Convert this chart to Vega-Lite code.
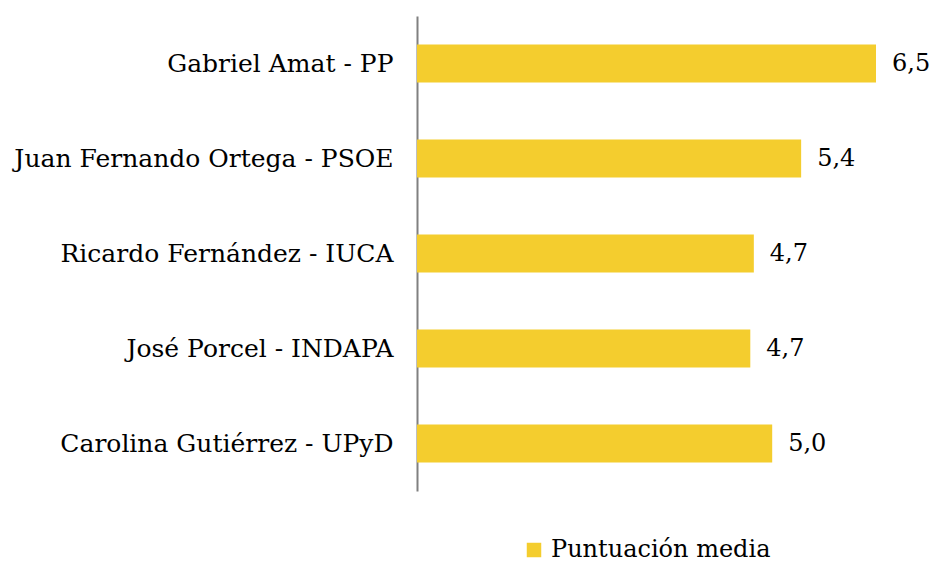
{
  "$schema": "https://vega.github.io/schema/vega-lite/v6.json",
  "autosize": "none",
  "width": 459,
  "height": 475,
  "padding": {"left": 417, "top": 16, "right": 59, "bottom": 71},
  "background": "white",
  "config": {
    "view": {"stroke": null},
    "font": "DejaVu Serif",
    "text": {"font": "DejaVu Serif"},
    "legend": {"labelFont": "DejaVu Serif"},
    "axis": {"labelFont": "DejaVu Serif"}
  },
  "data": {
    "values": [
      {"candidato": "Gabriel Amat - PP", "puntuacion": 6.5, "etiqueta": "6,5"},
      {"candidato": "Juan Fernando Ortega - PSOE", "puntuacion": 5.44, "etiqueta": "5,4"},
      {"candidato": "Ricardo Fernández - IUCA", "puntuacion": 4.77, "etiqueta": "4,7"},
      {"candidato": "José Porcel - INDAPA", "puntuacion": 4.72, "etiqueta": "4,7"},
      {"candidato": "Carolina Gutiérrez - UPyD", "puntuacion": 5.03, "etiqueta": "5,0"}
    ]
  },
  "encoding": {
    "y": {
      "field": "candidato",
      "type": "nominal",
      "sort": null,
      "scale": {"paddingInner": 0.6, "paddingOuter": 0.3},
      "axis": {
        "title": null,
        "ticks": false,
        "domainColor": "#808080",
        "domainWidth": 2,
        "labelPadding": 24,
        "labelFont": "DejaVu Serif",
        "labelFontSize": 25,
        "labelColor": "#000000",
        "labelLimit": 500
      }
    },
    "x": {
      "field": "puntuacion",
      "type": "quantitative",
      "scale": {"domain": [0, 6.5], "nice": false},
      "axis": null
    }
  },
  "layer": [
    {
      "mark": {"type": "bar"},
      "encoding": {
        "color": {
          "datum": "Puntuación media",
          "type": "nominal",
          "scale": {"range": ["#F4CD2E"]},
          "legend": {
            "title": null,
            "orient": "none",
            "legendX": 105,
            "legendY": 522,
            "padding": 0,
            "symbolType": "square",
            "symbolSize": 210,
            "symbolStrokeWidth": 0,
            "labelFont": "DejaVu Serif",
            "labelFontSize": 24,
            "labelColor": "#000000",
            "labelOffset": 5,
            "labelLimit": 500
          }
        }
      }
    },
    {
      "mark": {"type": "text", "align": "left", "baseline": "middle", "dx": 16, "font": "DejaVu Serif", "fontSize": 24, "fill": "#000000"},
      "encoding": {"text": {"field": "etiqueta", "type": "nominal"}}
    }
  ]
}
